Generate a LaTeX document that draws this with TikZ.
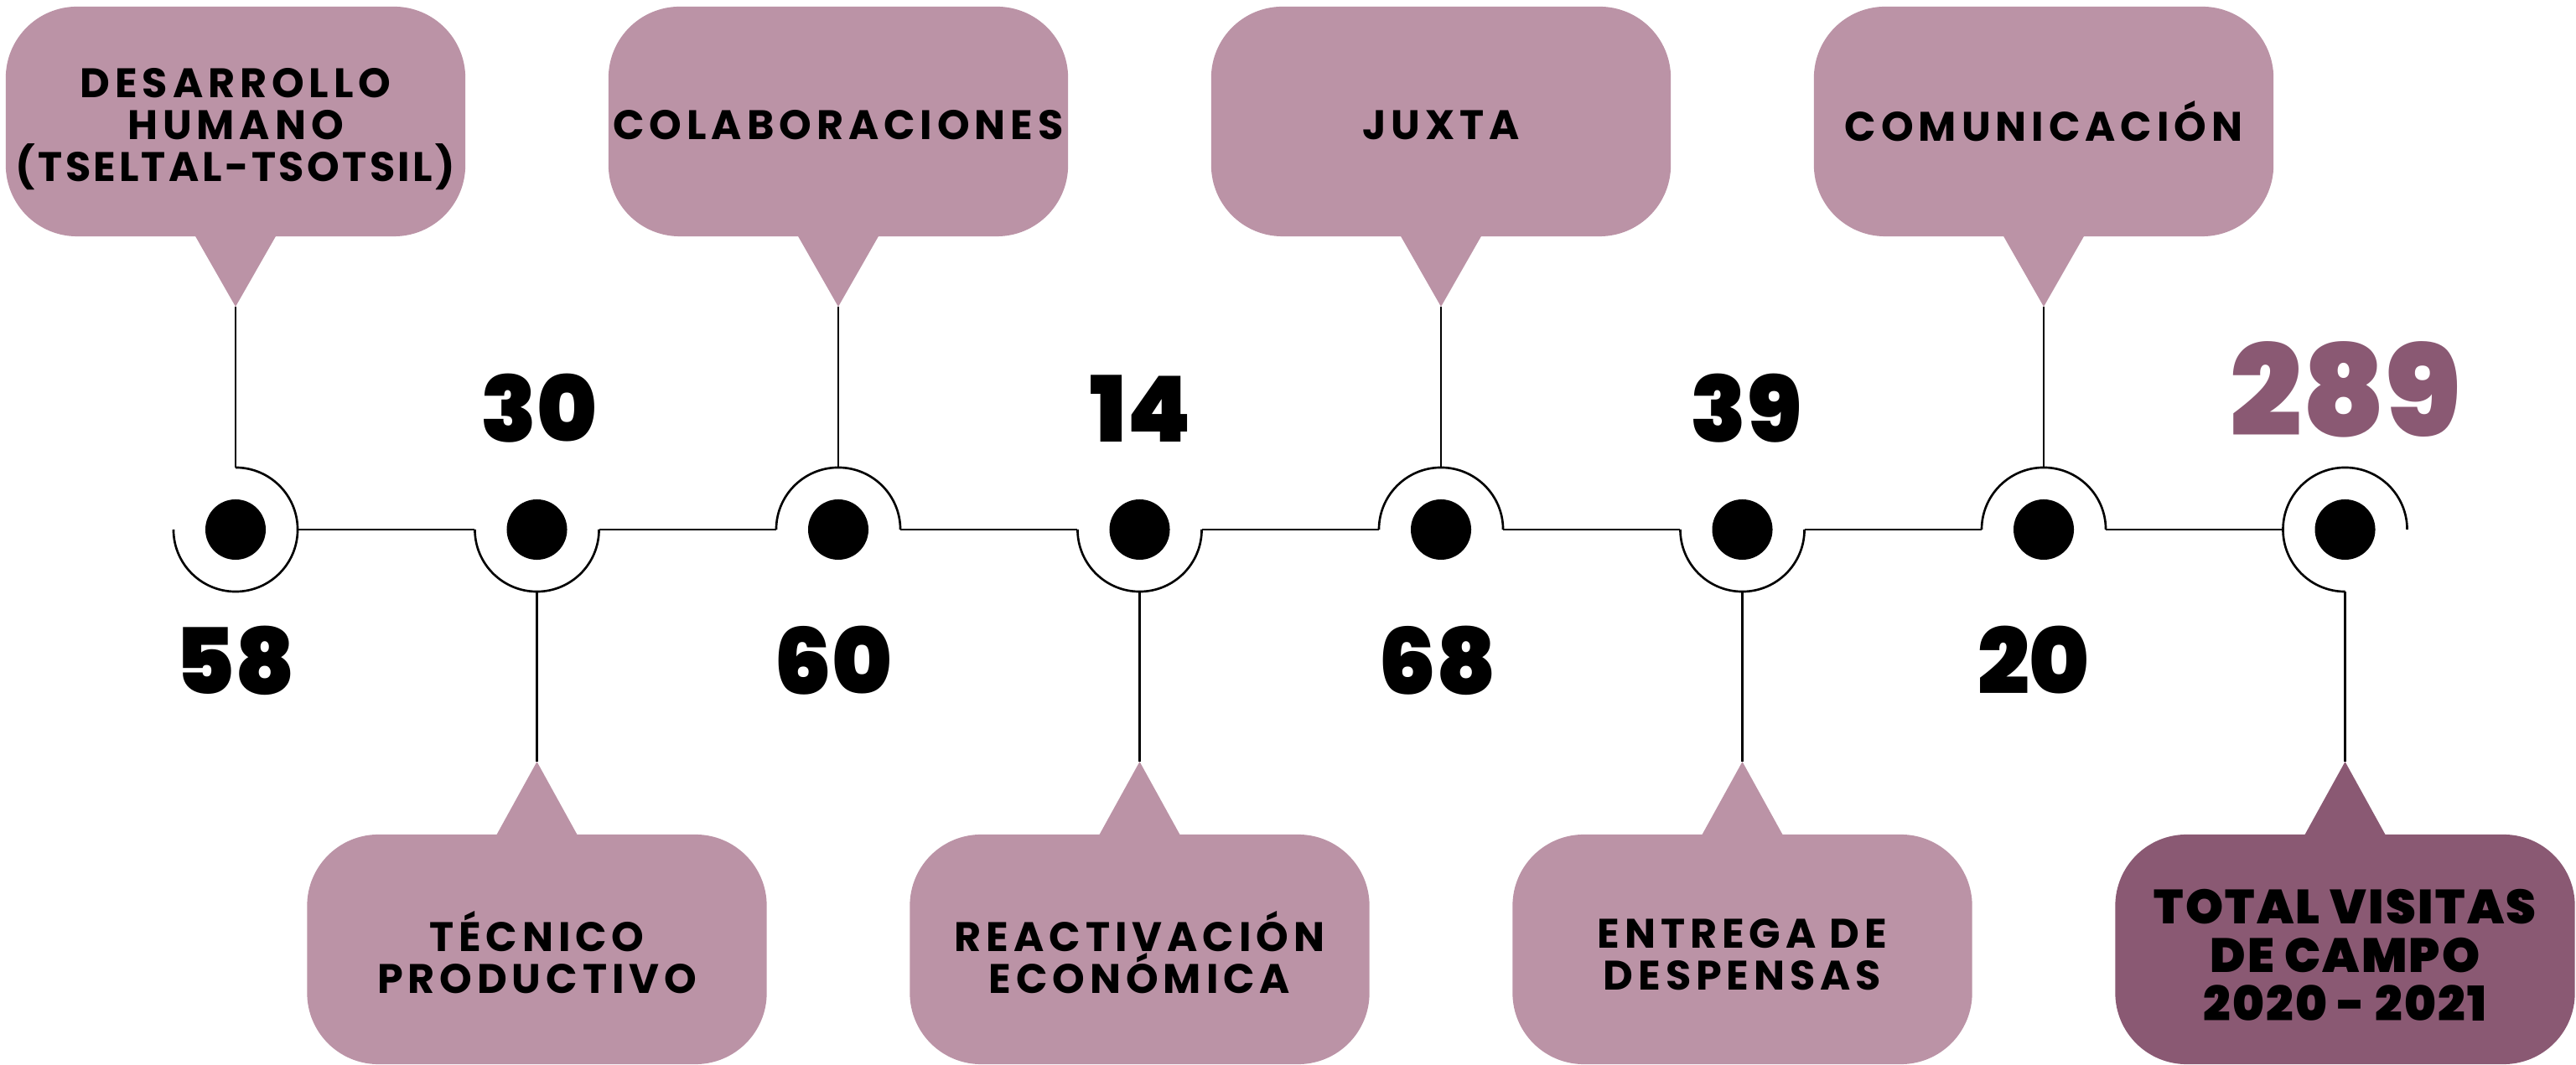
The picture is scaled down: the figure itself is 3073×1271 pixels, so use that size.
\documentclass[tikz,border=0pt]{standalone}
\usepackage{fontspec}
\setmainfont{Poppins}
\newfontfamily\bubfont{Poppins}[UprightFont={* Bold},LetterSpace=12]
\newfontfamily\narrowbubfont{Poppins}[UprightFont={* Bold},LetterSpace=7]
\newfontfamily\heavyfont{Poppins Black}
\newfontfamily\totfont{Poppins Black}[LetterSpace=4]
\definecolor{mauve}{HTML}{BB93A6}
\definecolor{plum}{HTML}{8A5973}
\begin{document}
\begin{tikzpicture}[x=0.01cm,y=-0.01cm,
  bubble/.style={rectangle, rounded corners=0.85cm, minimum width=5.48cm, minimum height=2.74cm, inner sep=0pt, outer sep=0pt},
  ring/.style={circle, minimum size=1.48cm, inner sep=0pt, outer sep=0pt},
  dotnode/.style={circle, fill=black, minimum size=0.72cm, inner sep=0pt},
  wire/.style={line width=0.75pt, black},
  btext/.style={align=center, font=\bubfont\fontsize{14pt}{14.2pt}\selectfont, text=black, inner sep=0pt},
  ttext/.style={align=center, font=\totfont\fontsize{16.3pt}{16.5pt}\selectfont, text=black, inner sep=0pt},
  num/.style={anchor=base, font=\heavyfont\fontsize{31pt}{32pt}\selectfont, inner sep=0pt},
]
\useasboundingbox (0,0) rectangle (3073,1271);

% bubbles
\node[bubble, fill=mauve] (b1) at (281,145) {};
\node[bubble, fill=mauve] (b3) at (1000,145) {};
\node[bubble, fill=mauve] (b5) at (1719,145) {};
\node[bubble, fill=mauve] (b7) at (2438,145) {};
\node[bubble, fill=mauve] (b2) at (640.5,1133) {};
\node[bubble, fill=mauve] (b4) at (1359.5,1133) {};
\node[bubble, fill=mauve] (b6) at (2078.5,1133) {};
\node[bubble, fill=plum] (b8) at (2797.5,1133) {};

% tail tips
\coordinate (t1) at (281,366);
\coordinate (t3) at (1000,366);
\coordinate (t5) at (1719,366);
\coordinate (t7) at (2438,366);
\coordinate (t2) at (640.5,909);
\coordinate (t4) at (1359.5,909);
\coordinate (t6) at (2078.5,909);
\coordinate (t8) at (2797.5,909);

% tails
\foreach \i in {1,3,5,7}{
  \fill[mauve] ([xshift=-0.49cm,yshift=0.02cm]b\i.south) -- ([xshift=0.49cm,yshift=0.02cm]b\i.south) -- (t\i) -- cycle;
}
\foreach \i in {2,4,6}{
  \fill[mauve] ([xshift=-0.49cm,yshift=-0.02cm]b\i.north) -- ([xshift=0.49cm,yshift=-0.02cm]b\i.north) -- (t\i) -- cycle;
}
\fill[plum] ([xshift=-0.49cm,yshift=-0.02cm]b8.north) -- ([xshift=0.49cm,yshift=-0.02cm]b8.north) -- (t8) -- cycle;

% bubble texts
\node[btext] (l1) at (281,154) {DESARROLLO\\HUMANO\\{\narrowbubfont\fontsize{14pt}{14.2pt}\selectfont (TSELTAL-TSOTSIL)}};
\node[btext] (l3) at (1000,149) {COLABORACIONES};
\node[btext] (l5) at (1719,149) {JUXTA};
\node[btext] (l7) at (2438,145) {COMUNICACIÓN};
\node[btext] (l2) at (640.5,1137) {TÉCNICO\\PRODUCTIVO};
\node[btext] (l4) at (1359.5,1137) {REACTIVACIÓN\\ECONÓMICA};
\node[btext] (l6) at (2078.5,1139) {ENTREGA DE\\DESPENSAS};
\node[ttext] (l8) at (2797.5,1140) {TOTAL VISITAS\\DE CAMPO\\2020 - 2021};

% rings and dots
\node[ring] (r1) at (281,632) {};
\node[ring] (r2) at (640.5,632) {};
\node[ring] (r3) at (1000,632) {};
\node[ring] (r4) at (1359.5,632) {};
\node[ring] (r5) at (1719,632) {};
\node[ring] (r6) at (2078.5,632) {};
\node[ring] (r7) at (2438,632) {};
\node[ring] (r8) at (2797.5,632) {};
\foreach \i in {1,...,8}{ \node[dotnode] (d\i) at (r\i) {}; }

% arcs
\draw[wire] (r1.west) arc[start angle=180, end angle=450, radius=0.74cm];
\foreach \i in {2,4,6}{ \draw[wire] (r\i.west) arc[start angle=180, end angle=360, radius=0.74cm]; }
\foreach \i in {3,5,7}{ \draw[wire] (r\i.west) arc[start angle=180, end angle=0, radius=0.74cm]; }
\draw[wire] (r8.east) arc[start angle=0, end angle=270, radius=0.74cm];

% timeline segments
\draw[wire] (r1.east) -- (r2.west);
\draw[wire] (r2.east) -- (r3.west);
\draw[wire] (r3.east) -- (r4.west);
\draw[wire] (r4.east) -- (r5.west);
\draw[wire] (r5.east) -- (r6.west);
\draw[wire] (r6.east) -- (r7.west);
\draw[wire] (r7.east) -- (r8.west);

% vertical connectors
\foreach \i in {1,3,5,7}{ \draw[wire] (r\i.north) -- (t\i); }
\foreach \i in {2,4,6,8}{ \draw[wire] (r\i.south) -- (t\i); }

% numbers
\node[num] (n1) at (280,829) {58};
\node[num] (n2) at (643,528) {30};
\node[num] (n3) at (994,829) {60};
\node[num] (n4) at (1361,528) {14};
\node[num] (n5) at (1715,829) {68};
\node[num] (n6) at (2083,528) {39};
\node[num] (n7) at (2426,829) {20};
\node[num, text=plum, font=\heavyfont\fontsize{43pt}{44pt}\selectfont] (n8) at (2798,521) {289};
\end{tikzpicture}
\end{document}
